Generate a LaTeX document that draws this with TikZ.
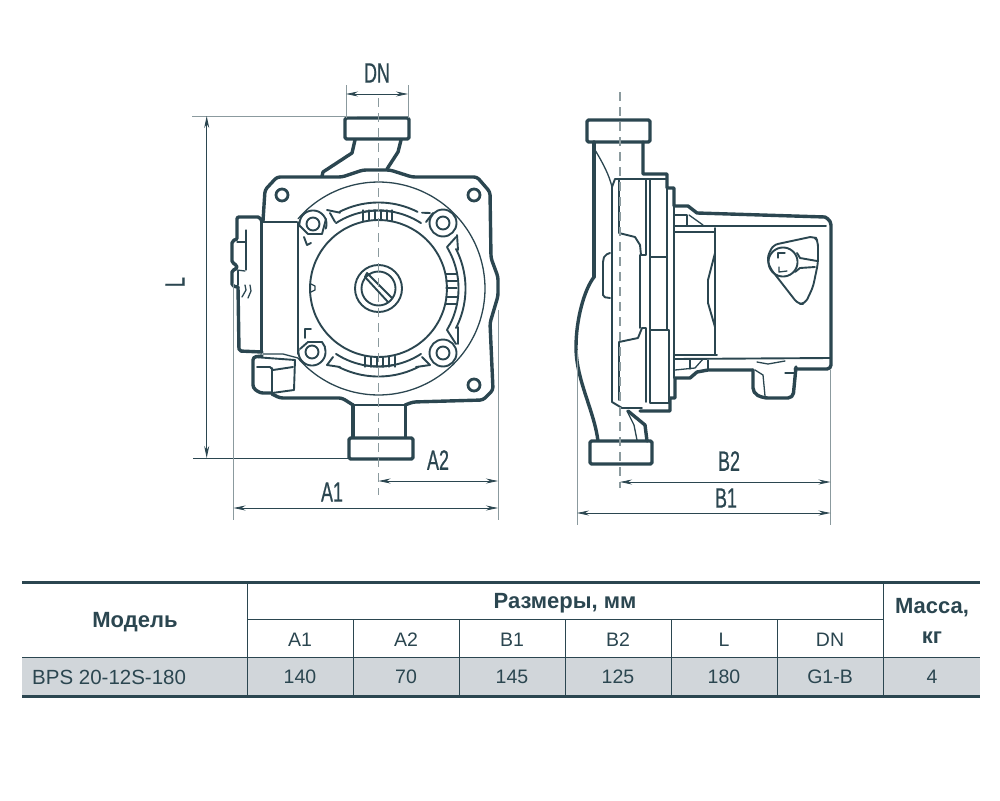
\documentclass[tikz,border=0pt]{standalone}
\usepackage{fontspec}
\setmainfont{Liberation Sans}
\newfontfamily\dimfont[FakeStretch=0.64,FakeBold=0.6]{Liberation Sans}
\usetikzlibrary{arrows.meta, positioning}
\definecolor{pumpink}{HTML}{2B4650}
\definecolor{extgray}{HTML}{8B9A9E}
\definecolor{bandgray}{HTML}{D1D6DA}
\tikzset{
	thickline/.style={draw=pumpink, line width=3.4pt, line join=round, line cap=round},
	midline/.style={draw=pumpink, line width=1.9pt, line join=round, line cap=round},
	thinline/.style={draw=pumpink, line width=1.3pt, line join=round, line cap=round},
	centerline/.style={draw=extgray, line width=1.2pt, dash pattern=on 9pt off 6pt},
	extline/.style={draw=extgray, line width=1pt},
	dimline/.style={draw=pumpink, line width=.8pt, {Stealth[length=12pt,width=5pt]}-{Stealth[length=12pt,width=5pt]}},
	dimlabel/.style={text=pumpink, font=\dimfont\fontsize{28}{28}\selectfont, inner sep=0pt},
	headcell/.style={text=pumpink, font=\bfseries\fontsize{22}{24}\selectfont, inner sep=0pt, align=center},
	tablecell/.style={text=pumpink, font=\fontsize{19.5}{21}\selectfont, inner sep=0pt}
}
\newcommand{\bodyarc}[6][thinline]{\draw[#1] plot[smooth, samples=40, domain=#5:#6] ({#2+#4*cos(\x)},{#3-#4*sin(\x)});}
\begin{document}
\begin{tikzpicture}[x=1pt, y=-1pt]
	\useasboundingbox (0,0) rectangle (1000,800);

	\coordinate (dnLeft) at (346,94);
	\coordinate (dnRight) at (408,94);
	\coordinate (lTop) at (206.7,116);
	\coordinate (lBottom) at (206.7,458);
	\coordinate (aLeft) at (233.5,508);
	\coordinate (aRight) at (498,508);
	\coordinate (aMid) at (378.5,481);
	\coordinate (aEnd) at (498,481);
	\coordinate (bLeft) at (577,513);
	\coordinate (bRight) at (830.5,513);
	\coordinate (bMid) at (620,482);
	\coordinate (bEnd) at (830.5,482);

	\draw[thickline, fill=white, rounded corners=1.5pt] (345,118) rectangle (409,139);
	\draw[thickline] (355,140) -- (352,153) -- (323,172) -- (322,176);
	\draw[thickline] (401,140) -- (398,152) -- (387,169);
	\draw[thickline, rounded corners=3pt] (263,221) -- (265,190) -- (277,177) -- (342,177) -- (363,170) -- (390,170) -- (412,177) -- (477,177) -- (490,192) -- (491,258) -- (498,277) -- (498,296) -- (490,323) -- (493,390) -- (483,400) -- (413,402) -- (405,405);
	\draw[thickline, rounded corners=3pt] (353,405) -- (342,398) -- (280,398) -- (272,394);
	\draw[midline] (353,405) -- (405.5,405);
	\draw[thickline] (353,405) -- (353,438);
	\draw[thickline] (405.5,405) -- (405.5,438);
	\draw[thickline, fill=white, rounded corners=1.5pt] (349,438) rectangle (413,459);

	\draw[thickline, rounded corners=2pt] (237,238) -- (237,217) -- (260,217) -- (262,222);
	\draw[thickline] (261.5,222) -- (261.5,352);
	\draw[thickline, rounded corners=2pt] (262,352) -- (239,351) -- (238,287);
	\draw[thickline, rounded corners=2pt] (237,239) -- (232,241) -- (232,263) -- (237,265) -- (237,269) -- (232,270) -- (232,286) -- (238,287);
	\draw[thinline] (246,230) -- (246,270);
	\draw[thinline] (237,242) -- (245,242);
	\draw[thinline] (237,270) -- (245,271);
	\draw[thinline] (238,271) -- (238,285);
	\draw[thinline] (245,285) -- (246,290) -- (242,297);
	\draw[thinline] (250,285) -- (251,291) -- (248,298);
	\draw[thinline] (262,222) -- (297,222);
	\draw[midline] (298,222) -- (298,354);
	\draw[thinline] (263,354) -- (283,354) -- (298,358);

	\draw[thickline, rounded corners=3pt] (262,356) -- (253,357) -- (253,388) -- (260,393) -- (272,393);
	\draw[midline] (254,357) -- (295,360);
	\draw[midline] (295,360) -- (294,390) -- (272,393);
	\draw[midline] (272,368) -- (272,393);
	\draw[midline] (257,367) -- (270,367) -- (273,370) -- (293,367);

	\bodyarc{378.5}{288.5}{106.5}{-139}{139}
	\bodyarc[midline]{378.5}{288.5}{68.5}{0}{360}
	\bodyarc[midline]{378.5}{288.5}{86}{63}{117}
	\bodyarc[midline]{378.5}{288.5}{88}{-117}{-63}
	\bodyarc[midline]{378.5}{288.5}{87}{-27}{27}
	\bodyarc[midline]{378.5}{288.5}{80}{-31}{31}
	\bodyarc[midline]{378.5}{288.5}{78}{79}{123}
	\bodyarc[midline]{378.5}{288.5}{78}{57}{101}
	\bodyarc[midline]{378.5}{288.5}{78}{-123}{-79}
	\bodyarc[midline]{378.5}{288.5}{78}{-101}{-57}
	\draw[midline] (327,210) -- (340,212.7);
	\draw[midline] (330,213) -- (335,222);
	\draw[midline] (430,213) -- (422,212.7);
	\draw[midline] (433,213) -- (426,222);
	\draw[midline] (327,365) -- (340,367);
	\draw[midline] (327,365) -- (333,357);
	\draw[midline] (430,365) -- (416,367);
	\draw[midline] (430,365) -- (422,357);
	\draw[midline] (456,237) -- (447,247);
	\draw[midline] (456,344) -- (447,330);
	\draw[midline] (457,235) -- (458,250);
	\draw[midline] (458,327) -- (458,344);

	\foreach \tx in {363,369,375,381,387,392} {
		\draw[thinline] (\tx,210) -- (\tx,220.5);
	}
	\foreach \tx in {365,371,377,383,389,395} {
		\draw[thinline] (\tx,356.5) -- (\tx,367);
	}
	\foreach \ty in {274,281,288,297,304} {
		\draw[thinline] (446,\ty) -- (457,\ty);
	}

	\foreach \bx/\by in {443/223,443/353} {
		\draw[midline, fill=white] (\bx,\by) circle [radius=13.5];
		\draw[midline] (\bx,\by) circle [radius=6.5];
	}
	\bodyarc[midline]{313}{224}{13.5}{-20}{190}
	\draw[midline] (326,219) -- (322,234) -- (308,234) -- (300,226);
	\draw[midline] (313,224) circle [radius=6.5];
	\bodyarc[midline]{312}{352}{13.5}{-190}{20}
	\draw[midline] (325,347) -- (322,342) -- (308,342) -- (300,349);
	\draw[midline] (312,352) circle [radius=6.5];

	\foreach \hx/\hy in {282/195,474/195,474/385} {
		\draw[draw=pumpink, line width=2.8pt] (\hx,\hy) circle [radius=6];
	}
	\draw[midline] (304,237) -- (307,245) -- (311,243);
	\draw[midline] (311,329) -- (305,329) -- (305,338);
	\draw[thinline] (311,284) -- (315,286) -- (315,290) -- (311,292);

	\draw[midline] (378.5,288.5) circle [radius=23.5];
	\draw[midline] (378.5,288.5) circle [radius=17];
	\draw[midline] (367,273) -- (392,298);
	\draw[midline] (365,277) -- (388,302);
	\draw[midline] (367,273) -- (365,277);

	\draw[thickline, fill=white, rounded corners=1.5pt] (587,120) rectangle (650,142);
	\draw[thickline] (594,142) -- (594,277);
	\draw[thickline] (594,277) .. controls (584,290) and (576,320) .. (576,347) .. controls (576,380) and (594,410) .. (598,441);
	\draw[thickline] (643,142) -- (643,174) -- (667,174) -- (667,188) -- (674,188) -- (674,206) -- (688,206) -- (697,213) -- (825,217);
	\draw[thickline, rounded corners=4pt] (825,217) -- (831,221) -- (831,369) -- (795,369);
	\draw[thickline] (753,370) -- (708,370) -- (697,372) -- (690,378) -- (675,378) -- (675,398) -- (670,398) -- (670,411) -- (640,411);
	\draw[thickline, fill=white, rounded corners=1.5pt] (590,441) rectangle (652,464);
	\draw[thickline] (628,411) -- (645,425) -- (647,441);
	\draw[thinline] (627,411) -- (634,425) -- (637,440);
	\draw[thickline, rounded corners=5pt] (753,370) -- (753,393) -- (763,398) -- (793,398) -- (796,367);

	\draw[thinline] (757,362) -- (768,364) -- (785,361);
	\draw[thinline] (755,370) -- (763,375) -- (765,396);
	\draw[thinline] (785,373) -- (794,373);
	\draw[thinline] (595,150) .. controls (604,165) and (609,175) .. (612,187);
	\draw[midline] (612,187) -- (612,402);
	\draw[midline] (612,187) -- (615,179) -- (667,179);
	\draw[midline] (612,402) -- (622,408) -- (642,408);
	\draw[midline] (619,180) -- (619,233) -- (635,237) -- (640,245) -- (641,255) -- (646,255) -- (646,180);
	\draw[midline] (619,400) -- (619,342) -- (638,338) -- (642,328) -- (646,328) -- (646,402);
	\draw[midline] (640,255) -- (640,328);
	\draw[midline] (650,180) -- (650,403) -- (669,403);
	\draw[midline] (650,257) -- (667,257);
	\draw[midline] (650,330) -- (669,330) -- (669,403);
	\draw[midline] (667,180) -- (667,330);
	\draw[midline] (674,188) -- (674,378);

	\draw[thinline] (675,215) -- (687,215) -- (687,225);
	\draw[thinline] (689,215) -- (703,225);
	\draw[midline] (675,226) -- (826,226);
	\draw[midline] (675,232) -- (715,232);
	\draw[midline] (715,228) -- (715,355);
	\draw[midline] (715,253) -- (708,280) -- (708,303) -- (715,327);
	\draw[midline] (675,355) -- (717,355);
	\draw[midline] (675,359) -- (830,358);
	\draw[thinline] (675,370) -- (695,368) -- (703,359);
	\draw[thinline] (708,370) -- (708,360);
	\draw[thinline] (690,360) -- (690,369);
	\draw[midline, rounded corners=2pt] (610,253) -- (605,255) -- (603,260) -- (603,297) -- (610,298);

	\draw[midline, rounded corners=5pt] (767,258) -- (773,245) -- (815,236) -- (818,242) -- (818,263) -- (813,287) -- (805,304) -- (798,304) -- (770,268) -- cycle;
	\bodyarc[midline]{783}{262}{14.5}{-140}{140}
	\bodyarc[midline]{783}{262}{14.5}{140}{220}
	\draw[midline] (797,253) -- (800,258) -- (817,261);
	\draw[midline] (795,272) -- (800,268) -- (815,267);
	\draw[thinline] (778,258) -- (778,253) -- (785,253);
	\draw[thinline] (779,267) -- (779,272) -- (787,271);

	\draw[centerline] (378.5,98) -- (378.5,495);
	\draw[centerline] (620,92) -- (620,488);

	\draw[extline] (dnLeft) ++(0,-9) -- +(0,33);
	\draw[extline] (dnRight) ++(0,-9) -- +(0,33);
	\draw[extline] (192,116) -- (357,116);
	\draw[draw=pumpink, line width=.9pt] (193,458) -- (350,458);
	\draw[extline] (233.5,283) -- (233.5,520);
	\draw[extline] (498,310) -- (498,520);
	\draw[extline] (577,350) -- (577,525);
	\draw[extline] (830.5,370) -- (830.5,525);

	\draw[dimline] (dnLeft) -- (dnRight);
	\draw[dimline] (lTop) -- (lBottom);
	\draw[dimline] (aLeft) -- (aRight);
	\draw[dimline] (aMid) -- (aEnd);
	\draw[dimline] (bLeft) -- (bRight);
	\draw[dimline] (bMid) -- (bEnd);

	\node[dimlabel] (dnLabel) at (377,73) {DN};
	\node[dimlabel, rotate=90] (lLabel) at (175,282) {L};
	\node[dimlabel] (a2Label) at (438,460) {A2};
	\node[dimlabel] (a1Label) at (332,492) {A1};
	\node[dimlabel] (b2Label) at (729,461) {B2};
	\node[dimlabel] (b1Label) at (726,498) {B1};

	\fill[bandgray] (22,657) rectangle (980,696);
	\draw[draw=pumpink, line width=3pt] (22,582) -- (980,582);
	\draw[draw=pumpink, line width=3pt] (22,696) -- (980,696);
	\draw[draw=pumpink, line width=1.4pt] (22,657.5) -- (980,657.5);
	\draw[draw=pumpink, line width=.8pt] (247,619) -- (883,619);
	\foreach \cx in {247,883} {
		\draw[draw=pumpink, line width=.8pt] (\cx,582) -- (\cx,696);
	}
	\foreach \cx in {353,459,565,671,777} {
		\draw[draw=pumpink, line width=.8pt] (\cx,619) -- (\cx,696);
	}

	\node[headcell] (modelHead) at (135,622) {Модель};
	\node[headcell] (sizeHead) at (565,603) {Размеры, мм};
	\node[headcell] (massHead) at (932,608) {Масса,};
	\node[headcell] (massUnit) at (932,638) {кг};
	\node[tablecell] (a1Head) at (300,640) {A1};
	\node[tablecell] (a2Head) at (406,640) {A2};
	\node[tablecell] (b1Head) at (512,640) {B1};
	\node[tablecell] (b2Head) at (618,640) {B2};
	\node[tablecell] (lHead) at (724,640) {L};
	\node[tablecell] (dnHead) at (830,640) {DN};
	\node[tablecell, anchor=west, font=\fontsize{20.5}{22}\selectfont] (modelCell) at (32,677) {BPS 20-12S-180};
	\node[tablecell] (a1Cell) at (300,677) {140};
	\node[tablecell] (a2Cell) at (406,677) {70};
	\node[tablecell] (b1Cell) at (512,677) {145};
	\node[tablecell] (b2Cell) at (618,677) {125};
	\node[tablecell] (lCell) at (724,677) {180};
	\node[tablecell] (dnCell) at (830,677) {G1-B};
	\node[tablecell] (massCell) at (932,677) {4};
\end{tikzpicture}
\end{document}
